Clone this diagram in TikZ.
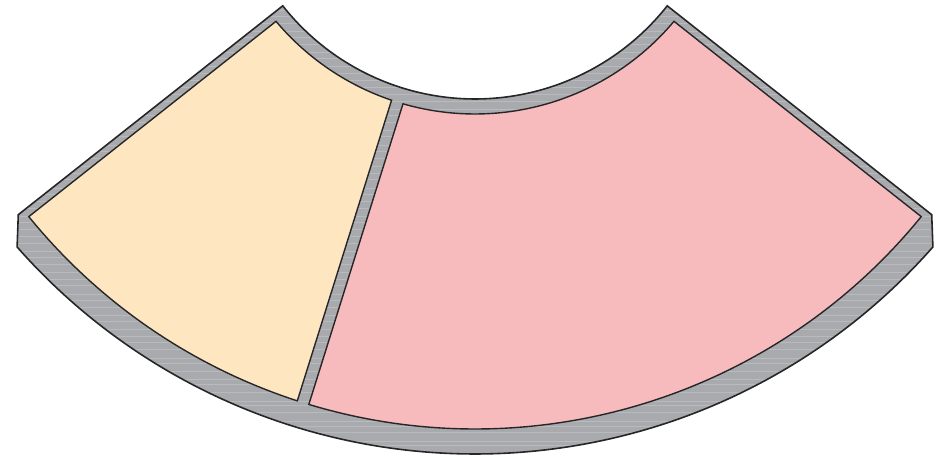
\documentclass[tikz,border=0pt]{standalone}
\usepackage{xcolor}
\usetikzlibrary{calc}
\definecolor{rimgray}{HTML}{A9AAAD}
\definecolor{rimstreak}{HTML}{C9CACD}
\definecolor{cellyellow}{HTML}{FEE6C1}
\definecolor{cellpink}{HTML}{F7BBBD}

\begin{document}
\begin{tikzpicture}[
  x=1pt,y=1pt,
  rim/.style={fill=rimgray,draw=black!85,line width=1.6pt,line join=miter},
  cell/.style={draw=black!85,line width=1.4pt,line join=miter}
]
  \useasboundingbox (0,0) rectangle (936,462);
  \coordinate (c) at (475,608);   % centre of the face arcs
  \coordinate (cb) at (475,618);  % centre of the lower rim arc

  % rim corners
  \coordinate (rimtl) at ($(c)+(218.3:245)$);
  \coordinate (rimr) at ($(c)+(321.7:582)$);
  \coordinate (rimbr) at ($(cb)+(318.65:610)$);
  \coordinate (riml) at ($(c)+(218.3:582)$);

  % metal rim with brushed streaks
  \path[rim,path picture={
      \foreach \y in {4,9,17,21,30,36,41,50,57,61,70,78,83,91,99,104,113,
                      120,126,133,141,147,155,162,168,177,183,190,198,205,
                      211,219,226,233,240,246,254,261,268,274,283,289,296,
                      304,311,317,326,332,340,347,353,361,368,375,382,389,
                      396,404,410,418,425,431,439,446,452,458}
        \draw[rimstreak,line width=0.5pt,opacity=0.5] (0,\y) -- (936,\y);
    }]
    (rimtl) arc[start angle=218.3,end angle=321.7,radius=245]
    -- (rimr) -- (rimbr) arc[start angle=318.65,end angle=221.35,radius=610]
    -- (riml) -- cycle;

  % left cell
  \coordinate (ytop) at ($(c)+(220.06:260)$);
  \coordinate (ybot) at ($(c)+(252.0:575)$);
  \path[cell,fill=cellyellow]
    (ytop) arc[start angle=220.06,end angle=251.28,radius=260]
    -- (ybot) arc[start angle=252.0,end angle=219.1,radius=575] -- cycle;

  % right cell
  \coordinate (ptop) at ($(c)+(253.92:260)$);
  \coordinate (pbot) at ($(c)+(320.9:575)$);
  \path[cell,fill=cellpink]
    (ptop) arc[start angle=253.92,end angle=319.94,radius=260]
    -- (pbot) arc[start angle=320.9,end angle=253.2,radius=575] -- cycle;
\end{tikzpicture}
\end{document}
